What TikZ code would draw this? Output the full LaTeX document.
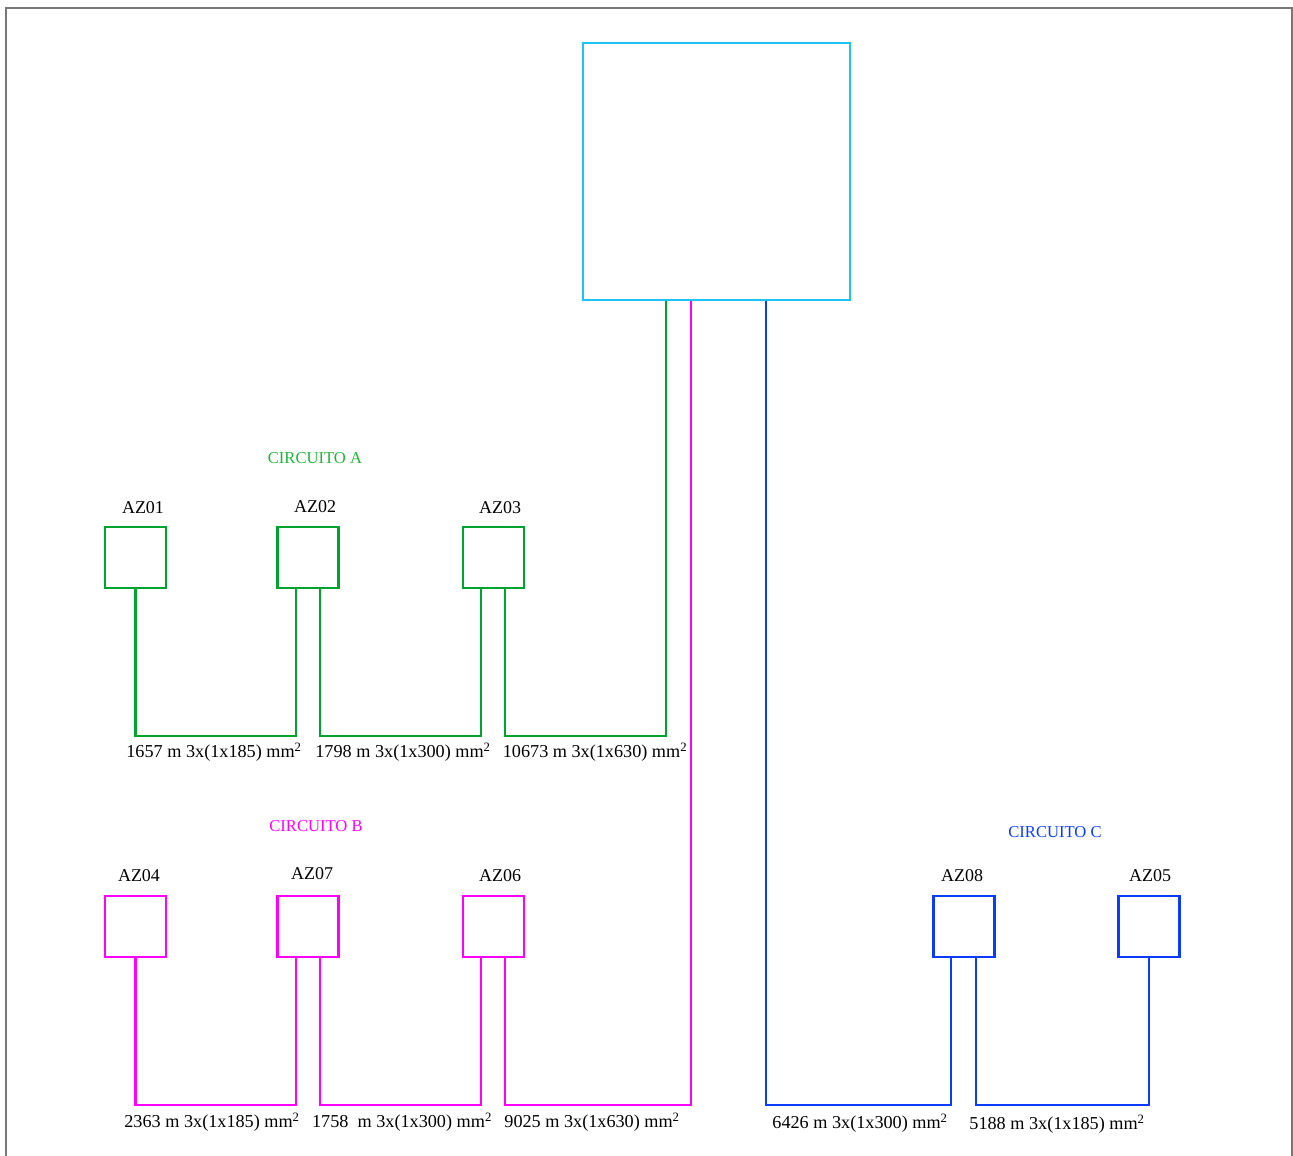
\documentclass[tikz,border=0pt]{standalone}
\usepackage{fontspec}
\setmainfont{Liberation Serif}
\usetikzlibrary{calc}
\definecolor{cA}{HTML}{00A32E}
\definecolor{cAt}{HTML}{1DB53A}
\definecolor{cB}{HTML}{FF00FF}
\definecolor{cC}{HTML}{0A3CFF}
\definecolor{cM}{HTML}{1EC3F5}
\definecolor{frame}{HTML}{777777}
\begin{document}
\begin{tikzpicture}[x=1pt,y=-1pt,
  azbox/.style={draw,line width=2.3pt,minimum width=61pt,minimum height=61pt,inner sep=0pt},
  wire/.style={line width=2.2pt},
  lbl/.style={font=\fontsize{18}{21}\selectfont,text=black,inner sep=0pt},
  clbl/.style={font=\fontsize{16.6}{19}\selectfont,inner sep=0pt},
  cab/.style={font=\fontsize{18.2}{21}\selectfont,text=black,inner sep=0pt}]
\useasboundingbox (0,0) rectangle (1293,1156);
\draw[frame,line width=2pt] (6,1160) -- (6,8) -- (1292,8) -- (1292,1160);
% main box
\node[draw=cM,line width=2.4pt,minimum width=267pt,minimum height=257pt,inner sep=0pt] (main) at (716.5,171.5) {};
% circuit A
\node[azbox,draw=cA] (az01) at (135.5,557.5) {};
\node[azbox,draw=cA] (az02) at (308,557.5) {};
\node[azbox,draw=cA] (az03) at (493.5,557.5) {};
\node[lbl] (t01) at (143,508) {AZ01};
\node[lbl] (t02) at (315,507) {AZ02};
\node[lbl] (t03) at (500,508) {AZ03};
\node[clbl,text=cAt] (ca) at (315,458) {CIRCUITO A};
\draw[wire,cA] (az01.south) -- ++(0,147) -| ($(az02.south)+(-12,0)$);
\draw[wire,cA] ($(az02.south)+(12,0)$) -- ++(0,147) -| ($(az03.south)+(-12.5,0)$);
\draw[wire,cA] ($(az03.south)+(11.5,0)$) -- ++(0,147) -| ($(main.south)+(-50.5,0)$);
\node[cab] (la1) at (214,752) {1657 m 3x(1x185) mm\textsuperscript{2}};
\node[cab] (la2) at (403,752) {1798 m 3x(1x300) mm\textsuperscript{2}};
\node[cab] (la3) at (595,752) {10673 m 3x(1x630) mm\textsuperscript{2}};
% circuit B
\node[azbox,draw=cB] (az04) at (135.5,926.5) {};
\node[azbox,draw=cB] (az07) at (308,926.5) {};
\node[azbox,draw=cB] (az06) at (493.5,926.5) {};
\node[lbl] (t04) at (139,876) {AZ04};
\node[lbl] (t07) at (312,874) {AZ07};
\node[lbl] (t06) at (500,876) {AZ06};
\node[clbl,text=cB] (cb) at (316,826) {CIRCUITO B};
\draw[wire,cB] (az04.south) -- ++(0,147) -| ($(az07.south)+(-12,0)$);
\draw[wire,cB] ($(az07.south)+(12,0)$) -- ++(0,147) -| ($(az06.south)+(-12.5,0)$);
\draw[wire,cB] ($(az06.south)+(11.5,0)$) -- ++(0,147) -| ($(main.south)+(-25.5,0)$);
\node[cab] (lb1) at (212,1122) {2363 m 3x(1x185) mm\textsuperscript{2}};
\node[cab] (lb2) at (402,1122) {1758~ m 3x(1x300) mm\textsuperscript{2}};
\node[cab] (lb3) at (592,1122) {9025 m 3x(1x630) mm\textsuperscript{2}};
% circuit C
\node[azbox,draw=cC] (az08) at (964,926.5) {};
\node[azbox,draw=cC] (az05) at (1149,926.5) {};
\node[lbl] (t08) at (962,876) {AZ08};
\node[lbl] (t05) at (1150,876) {AZ05};
\node[clbl,text=cC] (cc) at (1055,832) {CIRCUITO C};
\draw[wire,cC] ($(main.south)+(49.5,0)$) -- ++(0,804) -| ($(az08.south)+(-13,0)$);
\draw[wire,cC] ($(az08.south)+(12,0)$) -- ++(0,147) -| (az05.south);
\node[cab] (lc1) at (860,1123) {6426 m 3x(1x300) mm\textsuperscript{2}};
\node[cab] (lc2) at (1057,1124) {5188 m 3x(1x185) mm\textsuperscript{2}};
\end{tikzpicture}
\end{document}
